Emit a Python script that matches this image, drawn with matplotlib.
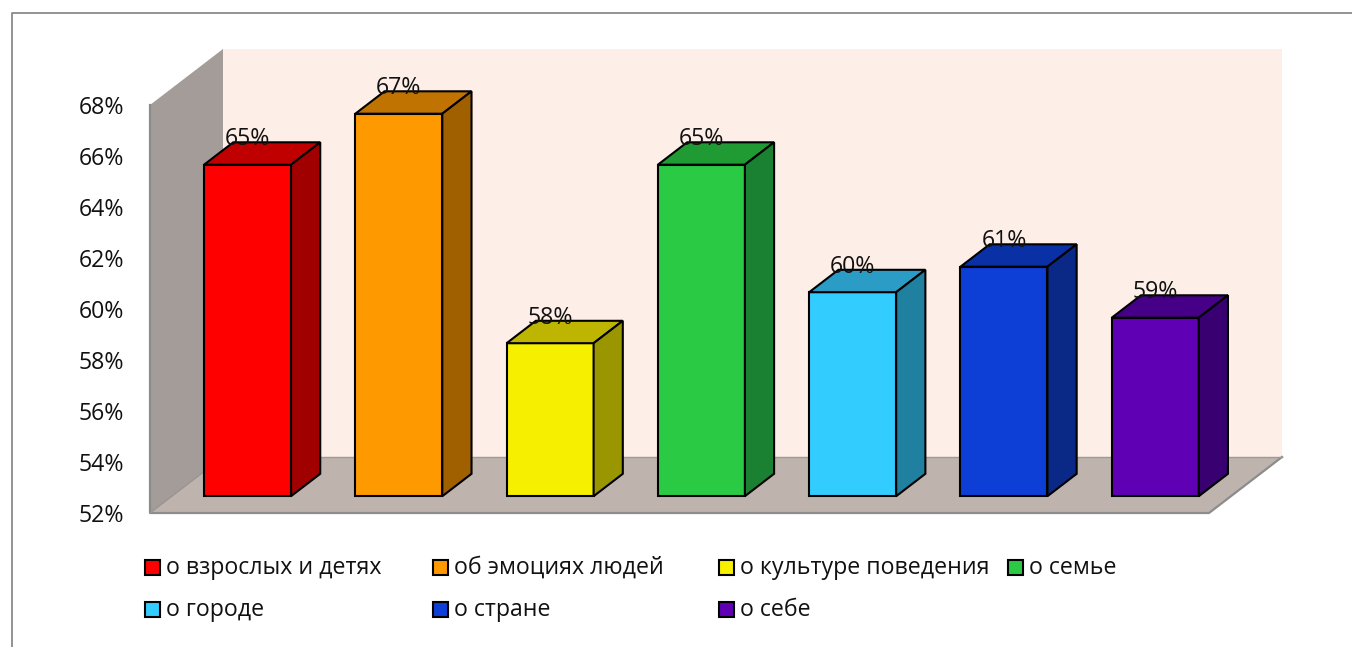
# coding=utf-8
import matplotlib
matplotlib.use("Agg")
import matplotlib.pyplot as plt
from matplotlib.lines import Line2D
from matplotlib.patches import Rectangle

plt.rcParams['font.family'] = ['Open Sans', 'DejaVu Sans']

categories = ['о взрослых и детях', 'об эмоциях людей', 'о культуре поведения', 'о семье',
              'о городе', 'о стране', 'о себе']
values = [65, 67, 58, 65, 60, 61, 59]
y_ticks = [52, 54, 56, 58, 60, 62, 64, 66, 68]

front_colors = ['#ff0000', '#ff9900', '#f6f000', '#2aca44', '#33ccff', '#0d3ed6', '#5f00b5']
top_colors = ['#c00000', '#c07300', '#bdb500', '#209a33', '#2a9cc5', '#0a30a5', '#460088']
side_colors = ['#a00000', '#a06000', '#9a9600', '#1a8032', '#2080a0', '#0a2885', '#380070']

W, H = 1352, 647
fig = plt.figure(figsize=(W / 100, H / 100), dpi=100)
ax = fig.add_axes([150 / W, (H - 513) / H, 1059 / W, 408 / H])

# глубина "3D" в единицах осей
depth_x = 73 / (1059 / 7)
depth_y = 56 / (408 / 16)
bar_w = 0.575
font_size = 16.7


def proj(x, y, d):
    return x + d * depth_x, y + d * depth_y


def poly(points, color, edge='none', lw=0, z=1):
    xs = [p[0] for p in points]
    ys = [p[1] for p in points]
    ax.fill(xs, ys, facecolor=color, edgecolor=edge, linewidth=lw, clip_on=False,
            zorder=z, joinstyle='miter')


ymin, ymax = y_ticks[0], y_ticks[-1]

# стенки и пол
poly([proj(0, ymin, 1), proj(7, ymin, 1), proj(7, ymax, 1), proj(0, ymax, 1)], '#fdeee7', z=1)
poly([proj(0, ymin, 0), proj(0, ymin, 1), proj(0, ymax, 1), proj(0, ymax, 0)], '#a39c98', z=2)
poly([proj(0, ymin, 0), proj(7, ymin, 0), proj(7, ymin, 1), proj(0, ymin, 1)], '#bfb3ae', z=2)
ax.plot([0, 0, 7, 7 + depth_x], [ymax, ymin, ymin, ymin + depth_y], color='#8c8c8c', lw=1.6,
        clip_on=False, zorder=3)
ax.plot([depth_x, 7 + depth_x], [ymin + depth_y, ymin + depth_y], color='#a09a96', lw=1,
        clip_on=False, zorder=3)
ax.plot([0, depth_x], [ymin, ymin + depth_y], color='#9a9490', lw=1, clip_on=False, zorder=3)

# столбики
d1, d2 = 0.3, 0.7
for i, v in enumerate(values):
    l = i + 0.5 - bar_w / 2
    r = i + 0.5 + bar_w / 2
    z = 5 + i
    poly([proj(l, ymin, d1), proj(r, ymin, d1), proj(r, v, d1), proj(l, v, d1)],
         front_colors[i], 'black', 1.5, z)
    poly([proj(l, v, d1), proj(r, v, d1), proj(r, v, d2), proj(l, v, d2)],
         top_colors[i], 'black', 1.5, z)
    poly([proj(r, ymin, d1), proj(r, ymin, d2), proj(r, v, d2), proj(r, v, d1)],
         side_colors[i], 'black', 1.5, z)
    cx, cy = proj(i + 0.5, v, d1)
    ax.annotate(f'{v}%', (cx, cy), xytext=(0, 18.2), textcoords='offset points', ha='center',
                va='center', fontsize=font_size, color='#111111', zorder=30, annotation_clip=False)

ax.set_xlim(0, 7)
ax.set_ylim(ymin, ymax)
ax.set_xticks([])
ax.set_yticks(y_ticks)
ax.set_yticklabels([f'{t}%' for t in y_ticks], fontsize=font_size, color='#111111',
                   va='center_baseline')
ax.tick_params(axis='y', length=0, pad=18.5)
ax.patch.set_visible(False)
for s in ax.spines.values():
    s.set_visible(False)

# легенда
legend_x = [145, 433, 719, 1008, 145, 433, 719]
legend_y = [568, 568, 568, 568, 610, 610, 610]
for name, c, lx, ly in zip(categories, front_colors, legend_x, legend_y):
    fig.add_artist(Rectangle((lx / W, 1 - (ly - 1 + 7.5) / H), 15 / W, 15 / H, facecolor=c,
                             edgecolor='black', linewidth=1.5, transform=fig.transFigure))
    fig.text((lx + 21) / W, 1 - ly / H, name, fontsize=font_size, va='center', ha='left', color='#111111')

# рамка
fig.add_artist(Line2D([11.5 / W, 11.5 / W, 1], [0, 1 - 12.5 / H, 1 - 12.5 / H], color='#8a8a8a',
                      lw=1.3, transform=fig.transFigure))

fig.savefig('out.png', dpi=100)
